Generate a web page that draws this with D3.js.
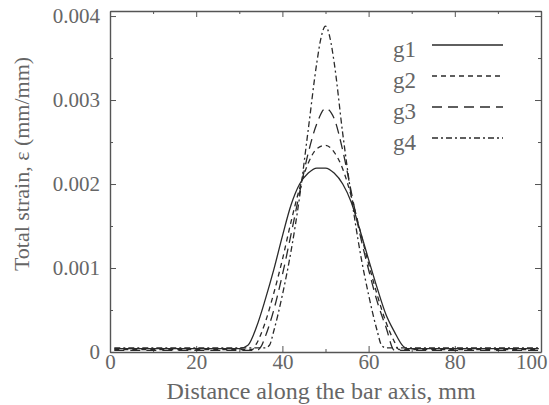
<!DOCTYPE html>
<html>
<head>
<meta charset="utf-8">
<script src="https://cdn.jsdelivr.net/npm/d3@7"></script>
<style>
body{margin:0;background:#fff;}
text{font-family:"Liberation Serif","Times New Roman",serif;fill:#666;}
</style>
</head>
<body>
<script>
var WIDTH = 549, HEIGHT = 405;

var xTicks = [0,20,40,60,80,100];
var xMinor = [10,30,50,70,90];
var yTicks = [0,0.001,0.002,0.003,0.004];
var yTickLabels = ["0","0.001","0.002","0.003","0.004"];
var yMinor = [0.0005,0.0015,0.0025,0.0035];
var seriesNames = ["g1","g2","g3","g4"];

// distance (mm) / total strain
var g1Dist   = [1,30,32,34,36,38,40,42,44,46,48,50,52,54,56,58,60,62,64,66,68,69,99.5];
var g1Strain = [0.00004,0.00004,0.00008,0.0003,0.00062,0.00098,0.00138,0.00175,0.002,0.00213,0.00219,0.00219,0.00213,0.002,0.00178,0.00145,0.0011,0.00076,0.00045,0.00024,0.00007,0.00004,0.00004];

var g2Dist   = [1,33,34,36,38,40,42,44,46,48,50,52,54,56,58,60,62,64,66,67,99.5];
var g2Strain = [0.00003,0.00003,0.0001,0.00035,0.0007,0.0011,0.00155,0.00195,0.00225,0.00242,0.00246,0.00238,0.00218,0.00185,0.00145,0.00105,0.00068,0.00036,0.00012,0.00003,0.00003];

var g3Dist   = [1,34,35,36,38,40,42,44,46,48,50,52,54,56,58,60,62,64,66,99.5];
var g3Strain = [0.00002,0.00002,0.00006,0.00018,0.0005,0.00092,0.0014,0.0019,0.00237,0.00272,0.0029,0.00278,0.0024,0.0019,0.0014,0.00098,0.0006,0.0003,0.00002,0.00002];

var g4Dist   = [1,36,37,38,40,42,44,46,48,49,50,51,52,54,56,58,60,62,63,64,99.5];
var g4Strain = [0.00005,0.00005,0.00008,0.00025,0.00068,0.0012,0.00185,0.00265,0.00345,0.00375,0.00388,0.00375,0.00345,0.0026,0.00185,0.0012,0.00068,0.00025,0.00008,0.00005,0.00005];

var dashes = ["none","5,4","10,6","6,3,2,3"];

var series = [[g1Dist,g1Strain],[g2Dist,g2Strain],[g3Dist,g3Strain],[g4Dist,g4Strain]];

var _svg = d3.select("body").append("svg")
	.attr("width",WIDTH)
	.attr("height",HEIGHT);

var _xScale = d3.scaleLinear().domain([0,100]).range([110,541]);
var _yScale = d3.scaleLinear().domain([0,0.00406]).range([352,11]);

var styleAxis = function(g){
	g.selectAll(".domain").attr("stroke","#555").attr("stroke-width",1.4);
	g.selectAll(".tick line").attr("stroke","#555").attr("stroke-width",1);
	g.selectAll(".tick text").attr("font-size","21px").attr("fill","#707070")
		.attr("font-family","Liberation Serif, serif");
};

// major axes (ticks inward)
var bottomAxis = _svg.append("g").attr("transform","translate(0,352)")
	.call(d3.axisBottom(_xScale).tickValues(xTicks).tickSizeInner(-6).tickSizeOuter(0).tickPadding(2));
styleAxis(bottomAxis);
bottomAxis.selectAll(".tick text").filter(function(d){return d==100})
	.attr("text-anchor","end").attr("dx","6");

var leftAxis = _svg.append("g").attr("transform","translate(110,0)")
	.call(d3.axisLeft(_yScale).tickValues(yTicks)
		.tickFormat(function(d,i){return yTickLabels[i]})
		.tickSizeInner(-6).tickSizeOuter(0).tickPadding(10));
styleAxis(leftAxis);

var topAxis = _svg.append("g").attr("transform","translate(0,11)")
	.call(d3.axisTop(_xScale).tickValues(xTicks).tickFormat("").tickSizeInner(-6).tickSizeOuter(0));
styleAxis(topAxis);

var rightAxis = _svg.append("g").attr("transform","translate(541,0)")
	.call(d3.axisRight(_yScale).tickValues(yTicks).tickFormat("").tickSizeInner(-6).tickSizeOuter(0));
styleAxis(rightAxis);

// minor ticks
var minor = [
	[d3.axisBottom(_xScale).tickValues(xMinor),"translate(0,352)"],
	[d3.axisTop(_xScale).tickValues(xMinor),"translate(0,11)"],
	[d3.axisLeft(_yScale).tickValues(yMinor),"translate(110,0)"],
	[d3.axisRight(_yScale).tickValues(yMinor),"translate(541,0)"]
];
minor.forEach(function(m){
	var g = _svg.append("g").attr("transform",m[1])
		.call(m[0].tickFormat("").tickSizeInner(-3).tickSizeOuter(0));
	g.select(".domain").remove();
	styleAxis(g);
});

// curves
var line = d3.line()
	.x(function(d){return _xScale(d[0])})
	.y(function(d){return _yScale(d[1])})
	.curve(d3.curveMonotoneX);

series.forEach(function(s,i){
	var pts = s[0].map(function(x,j){return [x,s[1][j]]});
	_svg.append("path")
		.attr("d",line(pts))
		.attr("fill","none")
		.attr("stroke","#2a2a2a")
		.attr("stroke-width",1.3)
		.attr("stroke-dasharray",dashes[i]);
});

// legend
var legend = _svg.append("g").selectAll("g").data(seriesNames).enter()
	.append("g")
	.attr("transform",function(d,i){return "translate(0,"+(45+i*31)+")"});
legend.append("text")
	.attr("x",393).attr("y",12)
	.attr("font-size","23px")
	.attr("fill","#707070")
	.text(function(d){return d});
legend.append("line")
	.attr("x1",432).attr("x2",503)
	.attr("stroke","#2a2a2a").attr("stroke-width",1.3)
	.attr("stroke-dasharray",function(d,i){return dashes[i]});

// axis titles
_svg.append("text")
	.attr("x",321).attr("y",399)
	.attr("text-anchor","middle")
	.attr("font-size","24px")
	.attr("fill","#707070")
	.text("Distance along the bar axis, mm");

_svg.append("text")
	.attr("transform","translate(29,164) rotate(-90)")
	.attr("text-anchor","middle")
	.attr("font-size","22px")
	.attr("fill","#707070")
	.text("Total strain, \u03b5 (mm/mm)");
</script>
</body>
</html>
